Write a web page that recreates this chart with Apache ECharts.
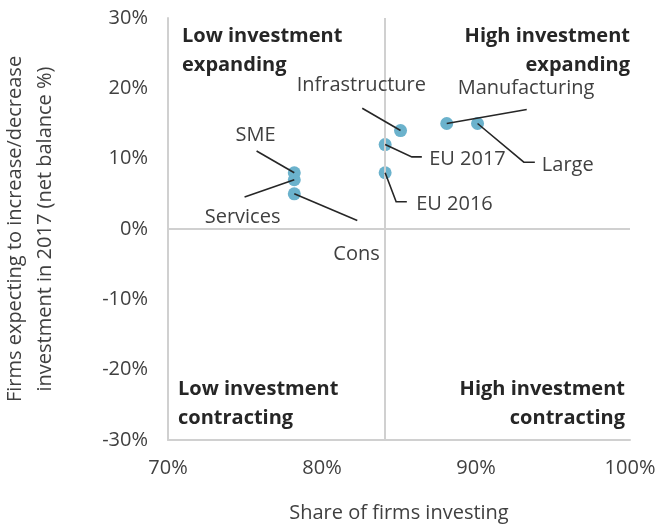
<!DOCTYPE html>
<html>
<head>
<meta charset="utf-8">
<script src="https://cdn.jsdelivr.net/npm/echarts@6/dist/echarts.min.js"></script>
<style>
html,body{margin:0;padding:0;background:#fff;}
#chart{width:657px;height:527px;}
</style>
</head>
<body>
<div id="chart"></div>
<script>
// ---- Data ----
const names = ['SME', 'Services', 'Cons', 'Infrastructure', 'EU 2017', 'EU 2016', 'Manufacturing', 'Large'];
const shareInvesting = [78.2, 78.2, 78.2, 85.1, 84.1, 84.1, 88.1, 90.1];
const netBalance = [8, 7, 5, 14, 12, 8, 15, 15];
const xTicks = [70, 80, 90, 100];
const yTicks = [-30, -20, -10, 0, 10, 20, 30];
const xSplit = 84.1;
const ySplit = 0;
const quadrantLabels = ['Low investment\nexpanding', 'High investment\nexpanding', 'Low investment\ncontracting', 'High investment\ncontracting'];
const xName = 'Share of firms investing';
const yName = 'Firms expecting to increase/decrease\ninvestment in 2017 (net balance %)';

// ---- Label styling (pixel offsets relative to the marker) ----
const labelStyle = {
  'SME':            { dx: -38.7, dy: -37.7, align: 'center', line: [[-37.7, -21.7], [0, 0]] },
  'Services':       { dx: -51.7, dy: 37.6,  align: 'center', line: [[-49.7, 17.3], [0, 0]] },
  'Cons':           { dx: 62.3,  dy: 60,    align: 'center', line: [[63, 26.7], [0, 0]] },
  'Infrastructure': { dx: -39.2, dy: -45,   align: 'center', line: [[-38.3, -22.3], [0, 0]] },
  'EU 2017':        { dx: 44,    dy: 14.7,  align: 'left',   line: [[0, 0], [26.7, 12.3], [36.7, 12.3]] },
  'EU 2016':        { dx: 31,    dy: 31.3,  align: 'left',   line: [[0, 0], [11, 29], [21.7, 29]] },
  'Manufacturing':  { dx: 79.3,  dy: -35,   align: 'center', line: [[80, -14], [0, 0]] },
  'Large':          { dx: 64.3,  dy: 42,    align: 'left',   line: [[0, 0], [46.3, 38.7], [57.3, 38.7]] }
};

const FONT = '"Open Sans", "Noto Sans", sans-serif';
const points = names.map((n, i) => [shareInvesting[i], netBalance[i], n]);
const xMin = xTicks[0], xMax = xTicks[xTicks.length - 1];
const yMin = yTicks[0], yMax = yTicks[yTicks.length - 1];

const quadLabel = (text, pos, off) => ({
  show: true, position: pos, formatter: text, offset: off,
  color: '#262626', fontFamily: FONT, fontSize: 20, fontWeight: 'bold', lineHeight: 29,
  align: pos.indexOf('Right') > -1 ? 'right' : 'left'
});

const chart = echarts.init(document.getElementById('chart'), null, { renderer: 'canvas' });
chart.setOption({
  animation: false,
  grid: { left: 168, right: 27, top: 18, bottom: 87, containLabel: false, outerBoundsMode: 'none' },
  xAxis: {
    type: 'value', min: xMin, max: xMax, interval: xTicks[1] - xTicks[0],
    axisLine: { show: true, onZero: false, lineStyle: { color: '#d0d0d0', width: 2 } },
    axisTick: { show: false }, splitLine: { show: false },
    axisLabel: { formatter: '{value}%', fontSize: 20, fontFamily: FONT, color: '#404040', margin: 18 },
    name: xName, nameLocation: 'middle', nameGap: 63,
    nameTextStyle: { fontSize: 20, fontFamily: FONT, color: '#404040' }
  },
  yAxis: {
    type: 'value', min: yMin, max: yMax, interval: yTicks[1] - yTicks[0],
    axisLine: { show: true, onZero: false, lineStyle: { color: '#d0d0d0', width: 2 } },
    axisTick: { show: false }, splitLine: { show: false },
    axisLabel: { formatter: '{value}%', fontSize: 20, fontFamily: FONT, color: '#404040', margin: 20 },
    name: yName, nameLocation: 'middle', nameGap: 108, nameRotate: 90,
    nameTextStyle: { fontSize: 20, fontFamily: FONT, color: '#404040', lineHeight: 30, align: 'center' }
  },
  series: [
    {
      type: 'scatter', data: points, symbolSize: 13,
      itemStyle: { color: '#6BB2CC', opacity: 1 },
      z: 2,
      markLine: {
        silent: true, symbol: 'none', label: { show: false },
        lineStyle: { color: '#d0d0d0', width: 2, type: 'solid' },
        data: [{ xAxis: xSplit }, { yAxis: ySplit }]
      },
      markArea: {
        silent: true, itemStyle: { color: 'rgba(0,0,0,0)' },
        data: [
          [{ coord: [xMin, yMax], label: quadLabel(quadrantLabels[0], 'insideTopLeft', [9, -1]) }, { coord: [xSplit, ySplit] }],
          [{ coord: [xSplit, yMax], label: quadLabel(quadrantLabels[1], 'insideTopRight', [5, -1]) }, { coord: [xMax, ySplit] }],
          [{ coord: [xMin, ySplit], label: quadLabel(quadrantLabels[2], 'insideBottomLeft', [5, -2]) }, { coord: [xSplit, yMin] }],
          [{ coord: [xSplit, ySplit], label: quadLabel(quadrantLabels[3], 'insideBottomRight', [0, -2]) }, { coord: [xMax, yMin] }]
        ]
      }
    },
    {
      type: 'custom', data: points, z: 5, silent: true,
      renderItem: function (params, api) {
        const p = api.coord([api.value(0), api.value(1)]);
        const name = names[params.dataIndex];
        const s = labelStyle[name];
        return {
          type: 'group',
          children: [
            { type: 'polyline', shape: { points: s.line.map(q => [p[0] + q[0], p[1] + q[1]]) },
              style: { stroke: '#262626', lineWidth: 1.6, fill: null } },
            { type: 'text', x: p[0] + s.dx, y: p[1] + s.dy,
              style: { text: name, fill: '#404040', fontSize: 20, fontFamily: FONT, align: s.align, verticalAlign: 'middle' } }
          ]
        };
      }
    }
  ]
});
</script>
</body>
</html>
